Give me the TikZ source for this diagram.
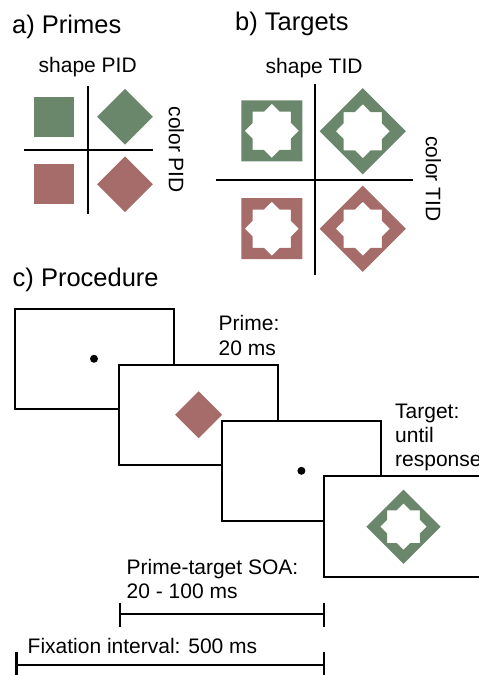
\documentclass[tikz,border=0pt]{standalone}
\usepackage{fontspec}
\setmainfont{Liberation Sans}
\definecolor{pgreen}{RGB}{106,135,107}
\definecolor{pred}{RGB}{165,108,106}
\tikzset{
  hdr/.style={font=\fontsize{25.5}{30}\selectfont, inner sep=0pt, anchor=base west},
  lbl/.style={font=\fontsize{21}{24.3}\selectfont, inner sep=0pt, anchor=base west, align=left},
  vlbl/.style={font=\fontsize{21}{24.3}\selectfont, inner sep=0pt, rotate=-90},
  axisline/.style={line width=2.2pt},
  screen/.style={draw, line width=2pt, fill=white, minimum width=159pt, minimum height=100.5pt, inner sep=0pt},
  bar/.style={line width=2.7pt},
  fixdot/.style={circle, fill=black, inner sep=0pt, minimum size=8pt},
  pics/prm/.style={code={\fill[#1] (-19.7,-19.7) rectangle (19.7,19.7);}},
  pics/tgt/.style={code={\fill[#1, even odd rule] (-30.5,-30.5) rectangle (30.5,30.5)
      (0:27) foreach \a in {0,45,...,315}{ -- (\a:27) -- (\a+22.5:20.7)} -- cycle;}},
}
\begin{document}
\begin{tikzpicture}[x=1pt, y=-1pt]
\useasboundingbox (0,0) rectangle (479,675);

% a) Primes
\node[hdr] (ha) at (12,33.3) {a) Primes};
\node[lbl] (spid) at (38.5,72.7) {shape PID};
\node[vlbl] (cpid) at (176.5,149.7) {color PID};
\pic (pa1) at (53.8,116.8) {prm=pgreen};
\pic[rotate=45] (pa2) at (125,116.8) {prm=pgreen};
\pic (pa3) at (53.8,183.8) {prm=pred};
\pic[rotate=45] (pa4) at (125,184.2) {prm=pred};
\draw[axisline] (88.3,86) -- (88.3,214);
\draw[axisline] (24,150) -- (152.7,150);

% b) Targets
\node[hdr] (hb) at (235,30.8) {b) Targets};
\node[lbl] (stid) at (265.5,73.3) {shape TID};
\node[vlbl] (ctid) at (433.5,179) {color TID};
\pic (tb1) at (271.8,130.8) {tgt=pgreen};
\pic[rotate=45] (tb2) at (362.8,131.2) {tgt=pgreen};
\pic (tb3) at (271.8,228.7) {tgt=pred};
\pic[rotate=45] (tb4) at (362.8,228.7) {tgt=pred};
\draw[axisline] (315,84) -- (315,275);
\draw[axisline] (215.7,180) -- (413.3,180);

% c) Procedure
\node[hdr] (hc) at (12.5,286) {c) Procedure};
\node[screen] (s1) at (94,358.75) {};
\node[fixdot] (d1) at (s1.center) {};
\node[screen] (s2) at (198.6,414.8) {};
\pic[rotate=45] (pc) at (s2.center) {prm={pred, scale=0.845}};
\node[screen] (s3) at (301.4,470.8) {};
\node[fixdot] (d3) at (s3.center) {};
\node[screen] (s4) at (403.5,526.7) {};
\pic[rotate=45, scale=0.86] (tc) at (s4.center) {tgt=pgreen};

% multi-line labels: base anchor = baseline of the last line
\node[lbl] (lprime) at (218.5,355) {Prime:\\20 ms};
\node[lbl] (ltarget) at (395,466.9) {Target:\\until\\response};
\node[lbl] (lsoa) at (126.5,598.3) {Prime-target SOA:\\20 - 100 ms};
\node[lbl] (lfix) at (27.5,653.3) {Fixation interval: 500 ms};

% time bars
\coordinate (soaL) at (120,614);
\coordinate (soaR) at (324,614);
\coordinate (fixL) at (16.7,665);
\coordinate (fixR) at (324,665);
\draw[bar] (soaL) -- (soaR);
\draw[bar] ([yshift=11.3pt]soaL) -- ([yshift=-12.7pt]soaL);
\draw[bar] ([yshift=11.3pt]soaR) -- ([yshift=-12.7pt]soaR);
\draw[bar] (fixL) -- (fixR);
\draw[bar] ([yshift=13.3pt]fixL) -- ([yshift=-12pt]fixL);
\draw[bar] ([yshift=13.3pt]fixR) -- ([yshift=-12pt]fixR);
\end{tikzpicture}
\end{document}
